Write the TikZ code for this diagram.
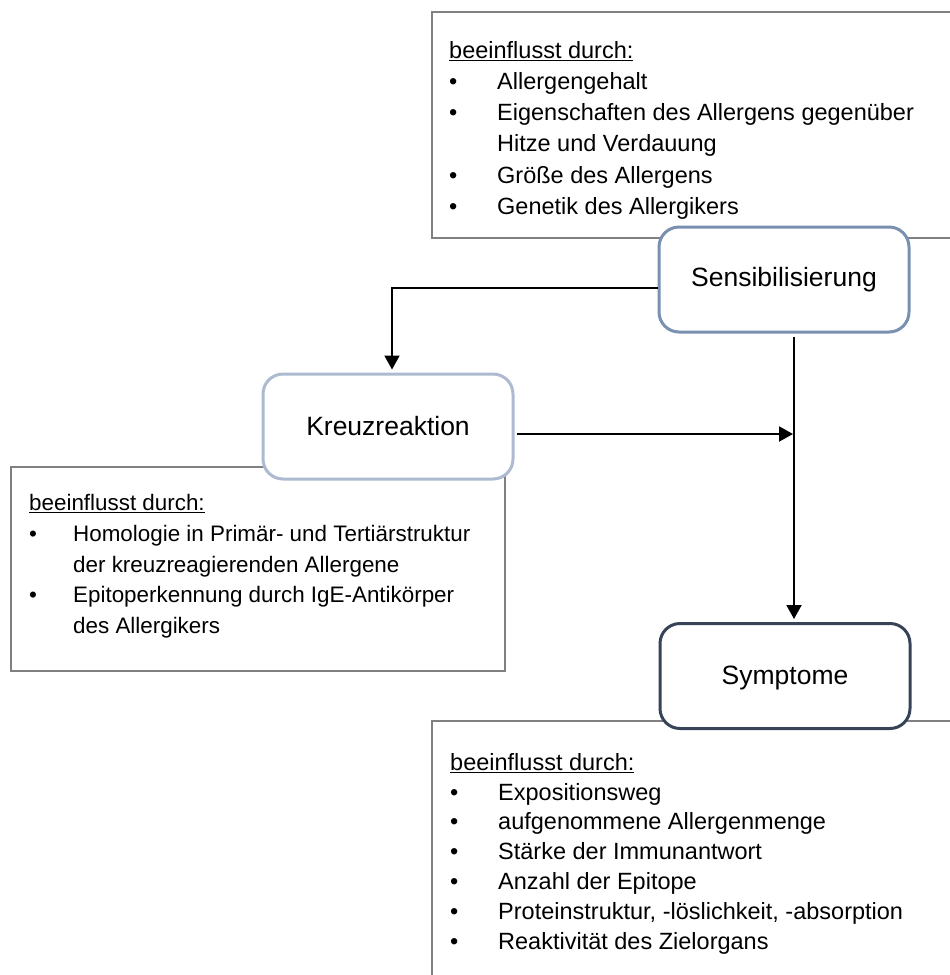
\documentclass[tikz,border=0pt]{standalone}
\usepackage{fontspec}
\setmainfont{Liberation Sans}
\usetikzlibrary{arrows.meta}
\definecolor{framegray}{HTML}{808080}
\definecolor{sensblue}{HTML}{7990B0}
\definecolor{kreuzblue}{HTML}{ADBAD0}
\definecolor{sympdark}{HTML}{374457}
\newcommand{\myul}[1]{\setbox0\hbox{#1}\rlap{\rule[-3.2pt]{\wd0}{1.6pt}}\box0}
\tikzset{
  infoframe/.style={draw=framegray, line width=2pt},
  stepbox/.style={draw, rounded corners=20pt, line width=3pt, fill=white,
    minimum width=250pt, minimum height=105pt, inner sep=0pt,
    font=\fontsize{26.5}{30}\selectfont},
  lnA/.style={anchor=base west, inner sep=0pt, font=\fontsize{23.5}{28}\selectfont},
  lnB/.style={anchor=base west, inner sep=0pt, font=\fontsize{22.4}{27}\selectfont},
  arr/.style={draw=black, line width=2pt, -{Triangle[length=14pt,width=15pt]}}
}
\begin{document}
\begin{tikzpicture}[x=1pt,y=-1pt]
\useasboundingbox (0,0) rectangle (950,975);
\clip (0,0) rectangle (950,975);
\fill[white] (0,0) rectangle (950,975);

% info frames
\draw[infoframe] (432,12) rectangle (965,238);
\draw[infoframe] (11,467) rectangle (505,671);
\draw[infoframe] (432,721) rectangle (965,990);

% top info text
\node[lnA] (ta0) at (449,58) {\myul{beeinflusst durch:}};
\node[lnA] (ta1b) at (449,89) {•};
\node[lnA] (ta1) at (497,89) {Allergengehalt};
\node[lnA] (ta2b) at (449,120) {•};
\node[lnA] (ta2) at (497,120) {Eigenschaften des Allergens gegenüber};
\node[lnA] (ta3) at (497,151) {Hitze und Verdauung};
\node[lnA] (ta4b) at (449,183) {•};
\node[lnA] (ta4) at (497,183) {Größe des Allergens};
\node[lnA] (ta5b) at (449,214) {•};
\node[lnA] (ta5) at (497,214) {Genetik des Allergikers};

% left info text
\node[lnB] (tb0) at (29,510) {\myul{beeinflusst durch:}};
\node[lnB] (tb1b) at (29,541) {•};
\node[lnB] (tb1) at (73,541) {Homologie in Primär- und Tertiärstruktur};
\node[lnB] (tb2) at (73,572) {der kreuzreagierenden Allergene};
\node[lnB] (tb3b) at (29,602) {•};
\node[lnB] (tb3) at (73,602) {Epitoperkennung durch IgE-Antikörper};
\node[lnB] (tb4) at (73,633) {des Allergikers};

% bottom info text
\node[lnA] (tc0) at (450,770) {\myul{beeinflusst durch:}};
\node[lnA] (tc1b) at (450,800) {•};
\node[lnA] (tc1) at (498,800) {Expositionsweg};
\node[lnA] (tc2b) at (450,829) {•};
\node[lnA] (tc2) at (498,829) {aufgenommene Allergenmenge};
\node[lnA] (tc3b) at (450,859) {•};
\node[lnA] (tc3) at (498,859) {Stärke der Immunantwort};
\node[lnA] (tc4b) at (450,889) {•};
\node[lnA] (tc4) at (498,889) {Anzahl der Epitope};
\node[lnA] (tc5b) at (450,919) {•};
\node[lnA] (tc5) at (498,919) {Proteinstruktur, -löslichkeit, -absorption};
\node[lnA] (tc6b) at (450,949) {•};
\node[lnA] (tc6) at (498,949) {Reaktivität des Zielorgans};

% step boxes
\node[stepbox, draw=sensblue] (sens) at (784,279.5) {Sensibilisierung};
\node[stepbox, draw=kreuzblue] (kreuz) at (388,426.5) {Kreuzreaktion};
\node[stepbox, draw=sympdark, text depth=2pt] (symp) at (785,676) {Symptome};

% connectors
\coordinate (vx) at (794,434);
\draw[arr, shorten >=3pt] ([yshift=-8.5pt]sens.west) -| ([xshift=4pt]kreuz.north);
\draw[arr, shorten <=2pt, shorten >=1pt] ([yshift=-7.5pt]kreuz.east) -- (vx);
\draw[arr, shorten <=3pt, shorten >=3pt] (sens.south -| vx) -- (symp.north -| vx);
\end{tikzpicture}
\end{document}
